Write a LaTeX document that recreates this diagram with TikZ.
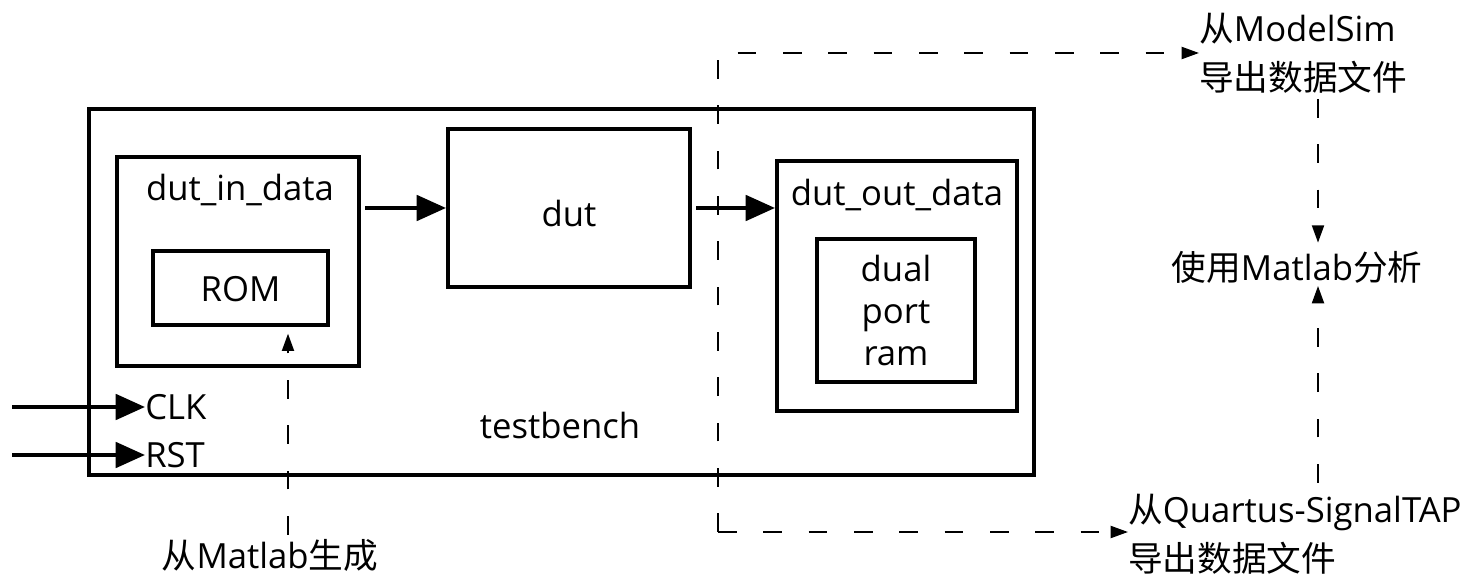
\documentclass[tikz,border=0pt]{standalone}
\usepackage{fontspec}
\setmainfont{Open Sans}
\newfontfamily\cjk{Noto Sans CJK SC}
\usetikzlibrary{arrows.meta,fit}
\begin{document}
\begin{tikzpicture}[x=0.75pt,y=-0.75pt,
  box/.style={draw,line width=3pt,inner sep=0pt},
  txt/.style={inner sep=0pt,font=\fontsize{26}{31.5}\selectfont,align=center},
  twoline/.style={txt,font=\fontsize{26}{37}\selectfont,align=left},
  sarr/.style={line width=3pt,-{Triangle[length=22pt,width=19pt]}},
  darr/.style={line width=1.5pt,dash pattern=on 14pt off 20pt,-{Triangle[length=13pt,width=9pt]}}]
\useasboundingbox (0,0) rectangle (1483,580);

% testbench and its blocks
\node[box,fit={(89,109)(1034,475)}] (tb) {};
\node[box,fit={(117,157)(359,366)}] (din) {};
\node[box,fit={(153,251)(328,325)}] (rom) {};
\node[box,fit={(448,129)(690,287)}] (dut) {};
\node[box,fit={(777,161)(1017,411)}] (dout) {};
\node[box,fit={(817,239)(975,382)}] (ram) {};

\node[txt] (roml) at ([yshift=-1pt]rom.center) {ROM};
\node[txt] (dutl) at ([yshift=-4pt]dut.center) {dut};
\node[txt] (raml) at (ram.center) {dual\\port\\ram};
\node[txt] (dinl) at (240,190) {dut\_in\_data};
\node[txt] (doutl) at (897,195) {dut\_out\_data};
\node[txt] (tbl) at (560,425) {testbench};

% clock and reset inputs
\node[txt,anchor=west] (clk) at (145,407) {CLK};
\node[txt,anchor=west] (rst) at (145,455) {RST};
\coordinate (clkin) at (12,407);
\coordinate (rstin) at (12,455);
\draw[sarr] (clkin) -- (clk.west);
\draw[sarr] (rstin) -- (rst.west);

% data path
\draw[sarr] ([xshift=3pt]din.east |- dut.west) -- (dut.west);
\draw[sarr] ([xshift=3pt]dut.east) -- (dut.east -| dout.west);

% ROM contents generated by Matlab
\node[txt] (mlgen) at (270,555) {{\cjk 从}Matlab{\cjk 生成}};
\coordinate (romx) at (288,0);
\draw[darr,shorten <=3pt,shorten >=5pt] (mlgen.north -| romx) -- (rom.south -| romx);

% exported data files and analysis
\node[twoline,anchor=west] (ms) at (1199,53) {{\cjk 从}ModelSim\\{\cjk 导出数据文件}};
\node[twoline,anchor=west] (qt) at (1128,534) {{\cjk 从}Quartus-SignalTAP\\{\cjk 导出数据文件}};
\node[txt] (an) at (1297,267) {{\cjk 使用}Matlab{\cjk 分析}};

\coordinate (bl) at (718,532);
\draw[darr] (bl) |- (ms.west);
\draw[darr] (bl) -- (bl -| qt.west);

\coordinate (vx) at (1318,0);
\draw[darr,shorten <=4pt,shorten >=6pt] (ms.south -| vx) -- (an.north -| vx);
\draw[darr,shorten <=8pt,shorten >=2pt] (qt.north -| vx) -- (an.south -| vx);
\end{tikzpicture}
\end{document}
